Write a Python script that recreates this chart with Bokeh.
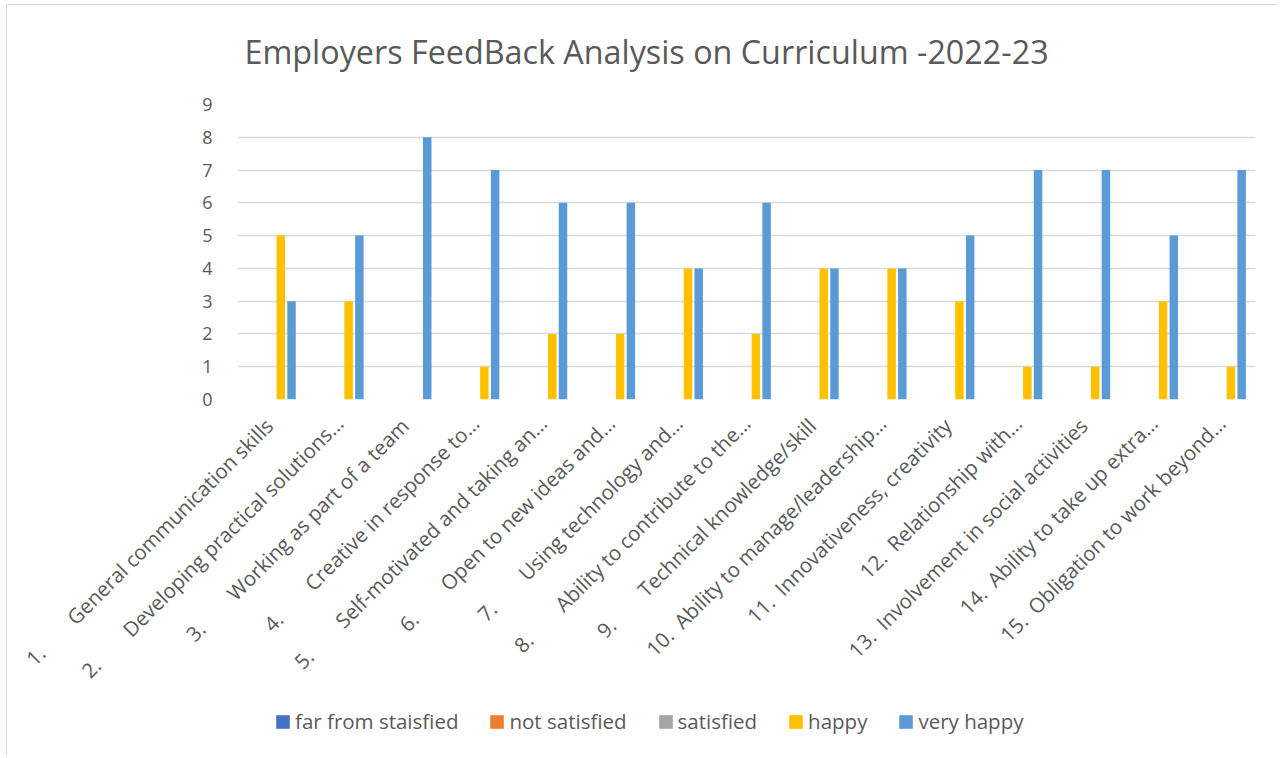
import math
from bokeh.plotting import figure
from bokeh.layouts import column
from bokeh.models import (FactorRange, Range1d, FixedTicker, Legend, LegendItem,
                          ColumnDataSource, Label)
from bokeh.transform import dodge
from bokeh.embed import file_html
from bokeh.resources import INLINE

numbers = ["1.", "2.", "3.", "4.", "5.", "6.", "7.", "8.", "9.",
           "10.", "11.", "12.", "13.", "14.", "15."]
texts = ["General communication skills",
         "Developing practical solutions\u2026",
         "Working as part of a team",
         "Creative in response to\u2026",
         "Self-motivated and taking an\u2026",
         "Open to new ideas and\u2026",
         "Using technology and\u2026",
         "Ability to contribute to the\u2026",
         "Technical knowledge/skill",
         "Ability to manage/leadership\u2026",
         "Innovativeness, creativity",
         "Relationship with\u2026",
         "Involvement in social activities",
         "Ability to take up extra\u2026",
         "Obligation to work beyond\u2026"]
series_names = ["far from staisfied", "not satisfied", "satisfied", "happy", "very happy"]
far_from_satisfied = [0] * 15
not_satisfied = [0] * 15
satisfied = [0] * 15
happy = [5, 3, 0, 1, 2, 2, 4, 2, 4, 4, 3, 1, 1, 3, 1]
very_happy = [3, 5, 8, 7, 6, 6, 4, 6, 4, 4, 5, 7, 7, 5, 7]
y_ticks = [0, 1, 2, 3, 4, 5, 6, 7, 8, 9]
title_text = "Employers FeedBack Analysis on Curriculum -2022-23"
colors = ["#4472C4", "#ED7D31", "#A5A5A5", "#FFC000", "#5B9BD5"]

cats = []
for n, t in zip(numbers, texts):
    gap = "\u2003\u2003" if len(n) == 2 else "\u2002"
    tail = "" if t.endswith("\u2026") else "\u2009"
    cats.append(n + gap + t + tail)

keys = ["s0", "s1", "s2", "s3", "s4"]
src = ColumnDataSource(dict(cat=cats, s0=far_from_satisfied, s1=not_satisfied,
                            s2=satisfied, s3=happy, s4=very_happy))

FONT = "Open Sans"
GREY = "#595959"
W = 1270


def strip(height):
    f = figure(width=W, height=height, output_backend="svg", toolbar_location=None,
               x_axis_location=None, y_axis_location=None,
               x_range=Range1d(0, 1), y_range=Range1d(0, 1),
               min_border_left=0, min_border_right=0, min_border_top=0,
               min_border_bottom=0)
    f.outline_line_color = None
    f.xgrid.visible = False
    f.ygrid.visible = False
    return f


# title strip
tt = strip(83)
tt.add_layout(Label(x=7, y=38, x_units="screen", y_units="screen", text=title_text,
                    text_align="left", text_baseline="alphabetic", text_font=FONT,
                    text_font_size="32.3px", text_color=GREY))

# main chart
p = figure(width=W, height=617, output_backend="svg", toolbar_location=None,
           x_range=FactorRange(*cats, range_padding=0), y_range=Range1d(0, 9),
           min_border_left=230, min_border_right=22, min_border_top=16,
           min_border_bottom=306, title=None)
p.x_range.factor_padding = 0
p.outline_line_color = None
p.background_fill_color = "white"
p.border_fill_color = "white"

step = 0.158
width = 0.125
for i, (key, col) in enumerate(zip(keys, colors)):
    p.vbar(x=dodge("cat", (i - 2) * step - 0.02, range=p.x_range), top=key, width=width,
           source=src, fill_color=col, line_color=None)

p.xgrid.grid_line_color = None
p.ygrid.grid_line_color = "#d9d9d9"
p.ygrid.grid_line_width = 1.5
p.yaxis.ticker = FixedTicker(ticks=y_ticks)
for ax in (p.xaxis, p.yaxis):
    ax.axis_line_color = None
    ax.major_tick_line_color = None
    ax.minor_tick_line_color = None
    ax.major_label_text_font = FONT
    ax.major_label_text_color = GREY
p.yaxis.major_label_text_font_size = "18px"
p.yaxis.major_label_standoff = 19
p.xaxis.major_label_text_font_size = "20.5px"
p.xaxis.major_label_orientation = math.pi / 4
p.xaxis.major_label_standoff = 14

# legend strip
lg = strip(50)
proxy = ColumnDataSource(dict(x=[-1.0], top=[0.0]))
lg_renderers = []
for col in colors:
    lg_renderers.append(lg.vbar(x="x", top="top", width=0.1, source=proxy,
                                fill_color=col, line_color=None))
legend = Legend(items=[LegendItem(label=n, renderers=[r]) for n, r in zip(series_names, lg_renderers)],
                orientation="horizontal", location=(37, 20),
                glyph_width=17, glyph_height=17, label_standoff=4, spacing=30,
                label_text_font=FONT, label_text_font_size="20.5px",
                label_text_color=GREY, border_line_color=None,
                background_fill_alpha=0, padding=0, margin=0)
lg.add_layout(legend, "center")

layout = column(tt, p, lg, spacing=0,
                styles={"margin-left": "6px", "margin-top": "4px",
                        "border-left": "1px solid #d9d9d9",
                        "border-top": "1px solid #d9d9d9"})

open("out.html", "w").write(file_html(layout, INLINE))
